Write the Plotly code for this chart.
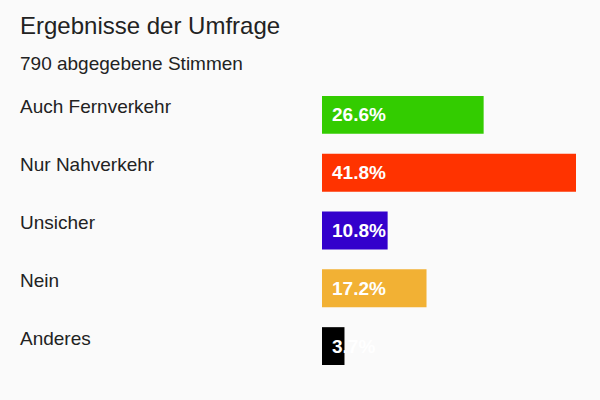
import plotly.graph_objects as go

# Umfrage data
categories = ["Auch Fernverkehr", "Nur Nahverkehr", "Unsicher", "Nein", "Anderes"]
percent = [26.6, 41.8, 10.8, 17.2, 3.7]
bar_colors = ["#33cc00", "#ff3300", "#3300cc", "#f2b134", "#000000"]
title_text = "Ergebnisse der Umfrage"
subtitle_text = "790 abgegebene Stimmen"

FONT = "Liberation Sans, Arial, sans-serif"
BG = "#fafafa"

fig = go.Figure()
fig.add_trace(go.Bar(
    x=percent,
    y=categories,
    orientation="h",
    marker=dict(color=bar_colors, line=dict(width=0)),
    hoverinfo="skip",
))

annotations = []
for cat, val in zip(categories, percent):
    # value label in white, starting inside the bar (overflows on short bars)
    annotations.append(dict(
        x=0, y=cat, xref="x", yref="y",
        text="<b>%.1f%%</b>" % val,
        showarrow=False, xanchor="left", xshift=8,
        font=dict(family=FONT, size=19, color="white"),
    ))
    # answer label on the left
    annotations.append(dict(
        x=0, y=cat, xref="paper", yref="y",
        text=cat,
        showarrow=False, xanchor="left", xshift=-304, yshift=8,
        font=dict(family=FONT, size=19, color="#222222"),
    ))

annotations.append(dict(
    x=0, y=1, xref="paper", yref="paper", text=title_text,
    showarrow=False, xanchor="left", yanchor="middle", xshift=-304, yshift=61,
    font=dict(family=FONT, size=24, color="#222222"),
))
annotations.append(dict(
    x=0, y=1, xref="paper", yref="paper", text=subtitle_text,
    showarrow=False, xanchor="left", yanchor="middle", xshift=-304, yshift=23,
    font=dict(family=FONT, size=19, color="#222222"),
))

fig.update_layout(
    width=600, height=400,
    margin=dict(l=322, r=24, t=86, b=25),
    paper_bgcolor=BG,
    plot_bgcolor=BG,
    bargap=0.345,
    showlegend=False,
    annotations=annotations,
    xaxis=dict(range=[0, max(percent)], visible=False, fixedrange=True),
    yaxis=dict(autorange="reversed", showticklabels=False, showgrid=False,
               zeroline=False, fixedrange=True),
)

fig.write_html(
    "out.html",
    config={"displayModeBar": False},
    post_script="document.body.style.margin='0';document.body.style.background='%s';" % BG,
)
